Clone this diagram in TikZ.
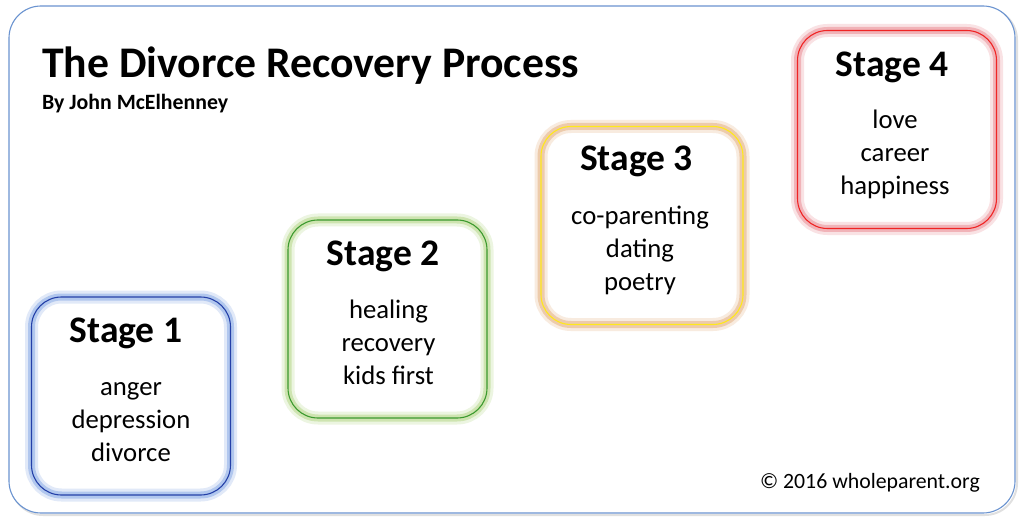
\documentclass[tikz,border=0pt]{standalone}
\usepackage{fontspec}
\setmainfont{Carlito}
\definecolor{frameblue}{HTML}{6A93D0}
\definecolor{oneline}{HTML}{2440A8}
\definecolor{oneglow}{HTML}{9DB9EA}
\definecolor{twoline}{HTML}{3C9A2E}
\definecolor{twoglow}{HTML}{C2DE9C}
\definecolor{threeline}{HTML}{FFE81A}
\definecolor{threeglow}{HTML}{E9BE96}
\definecolor{fourline}{HTML}{F02424}
\definecolor{fourglow}{HTML}{EEA0A6}
\tikzset{
  stagebox/.style 2 args={rounded corners=30pt, minimum width=199pt, minimum height=198pt,
    inner sep=0pt, draw=#1, line width=1.1pt,
    preaction={draw=#2, line width=13pt, opacity=.3},
    preaction={draw=#2, line width=7pt, opacity=.7}},
  stagetitle/.style={anchor=base, font=\fontsize{37.5}{44}\selectfont\bfseries},
  stageitems/.style={anchor=base, align=center, font=\fontsize{26.7}{33}\selectfont}
}
\begin{document}
\begin{tikzpicture}[x=1pt,y=-1pt]
  \useasboundingbox (0,0) rectangle (1024,529);
  % frame
  \draw[black!12, line width=2pt, rounded corners=32pt] (11,8) rectangle (1017,515);
  \draw[frameblue, line width=1.1pt, fill=white, rounded corners=32pt] (9,6) rectangle (1015,513);

  % heading
  \node[anchor=base west, inner sep=0pt, font=\fontsize{43.7}{50}\selectfont\bfseries] (heading) at (42,78) {The Divorce Recovery Process};
  \node[anchor=base west, inner sep=0pt, font=\fontsize{21.8}{26}\selectfont\bfseries] (byline) at (42,110) {By John McElhenney};

  % stage 1
  \node[stagebox={oneline}{oneglow}] (stage1) at (131,396) {};
  \node[stagetitle] (title1) at (126,342) {Stage 1};
  \node[stageitems] (items1) at (131,461) {anger\\depression\\divorce};

  % stage 2
  \node[stagebox={twoline}{twoglow}] (stage2) at (387.5,319) {};
  \node[stagetitle] (title2) at (383,265) {Stage 2};
  \node[stageitems] (items2) at (388.5,384) {healing\\recovery\\kids first};

  % stage 3
  \node[stagebox={threeline}{threeglow}, minimum width=202pt] (stage3) at (642,225.5) {};
  \node[stagetitle] (title3) at (636.5,171) {Stage 3};
  \node[stageitems] (items3) at (640,290) {co-parenting\\dating\\poetry};

  % stage 4
  \node[stagebox={fourline}{fourglow}] (stage4) at (897,129.5) {};
  \node[stagetitle] (title4) at (892,77) {Stage 4};
  \node[stageitems] (items4) at (895,195) {love\\career\\happiness};

  % copyright
  \node[anchor=base east, inner sep=0pt, font=\fontsize{21.8}{26}\selectfont] (copy) at (980,488) {© 2016 wholeparent.org};
\end{tikzpicture}
\end{document}
